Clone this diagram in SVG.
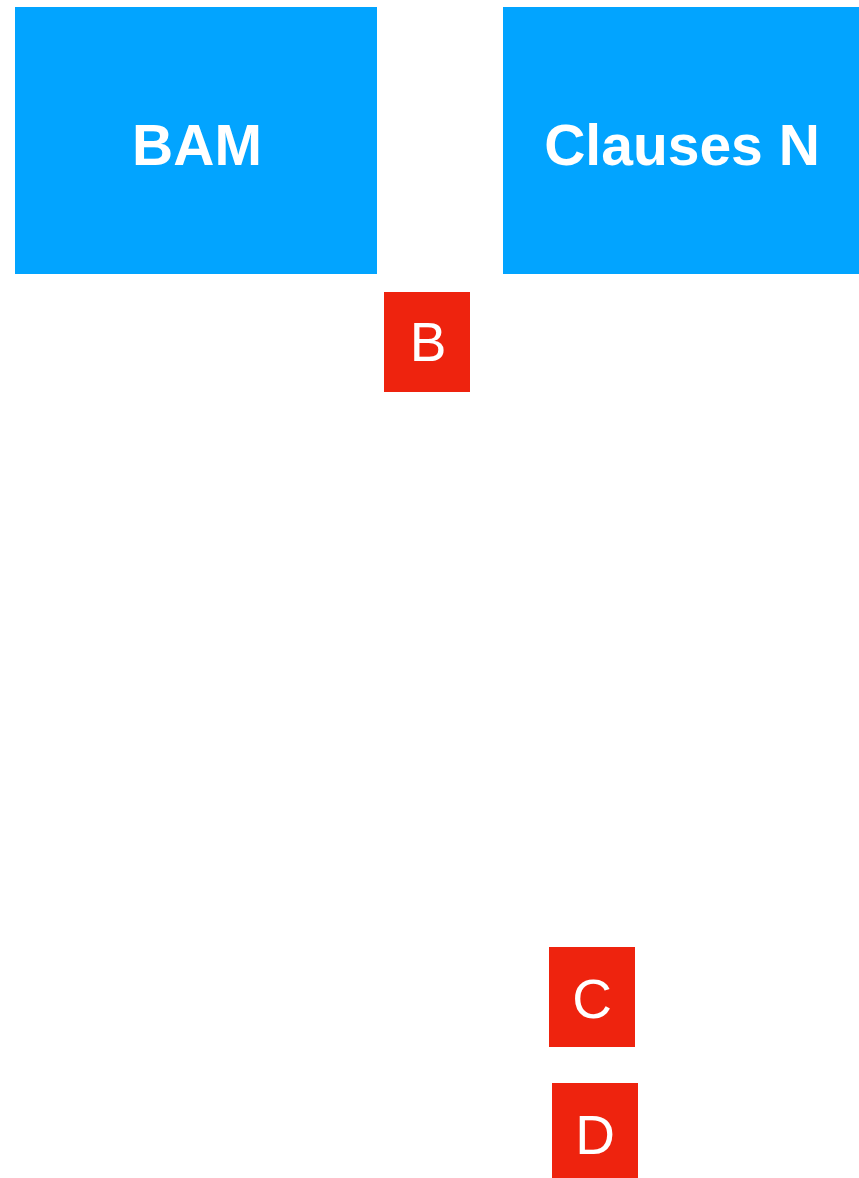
<svg xmlns="http://www.w3.org/2000/svg" width="859" height="1178" viewBox="0 0 859 1178">
<style>
.blue{fill:#02a4ff}
.red{fill:#ee230e}
.big{font-family:"Liberation Sans",Arial,sans-serif;font-weight:bold;font-size:57px;fill:#fff;text-anchor:middle}
.lbl{font-family:"Liberation Sans",Arial,sans-serif;font-size:55px;fill:#fff;text-anchor:middle}
</style>
<rect width="859" height="1178" fill="#fff"/>
<g id="bam"><rect class="blue" x="15" y="7" width="362" height="267"/><text class="big" x="197" y="165">BAM</text></g>
<g id="clauses"><rect class="blue" x="503" y="7" width="356" height="267"/><text class="big" x="682" y="165">Clauses N</text></g>
<g id="b"><rect class="red" x="384" y="292" width="86" height="100"/><text class="lbl" x="428" y="361">B</text></g>
<g id="c"><rect class="red" x="549" y="947" width="86" height="100"/><text class="lbl" x="592" y="1018">C</text></g>
<g id="d"><rect class="red" x="552" y="1083" width="86" height="95"/><text class="lbl" x="595" y="1154">D</text></g>
<g id="connectors"/>
</svg>
